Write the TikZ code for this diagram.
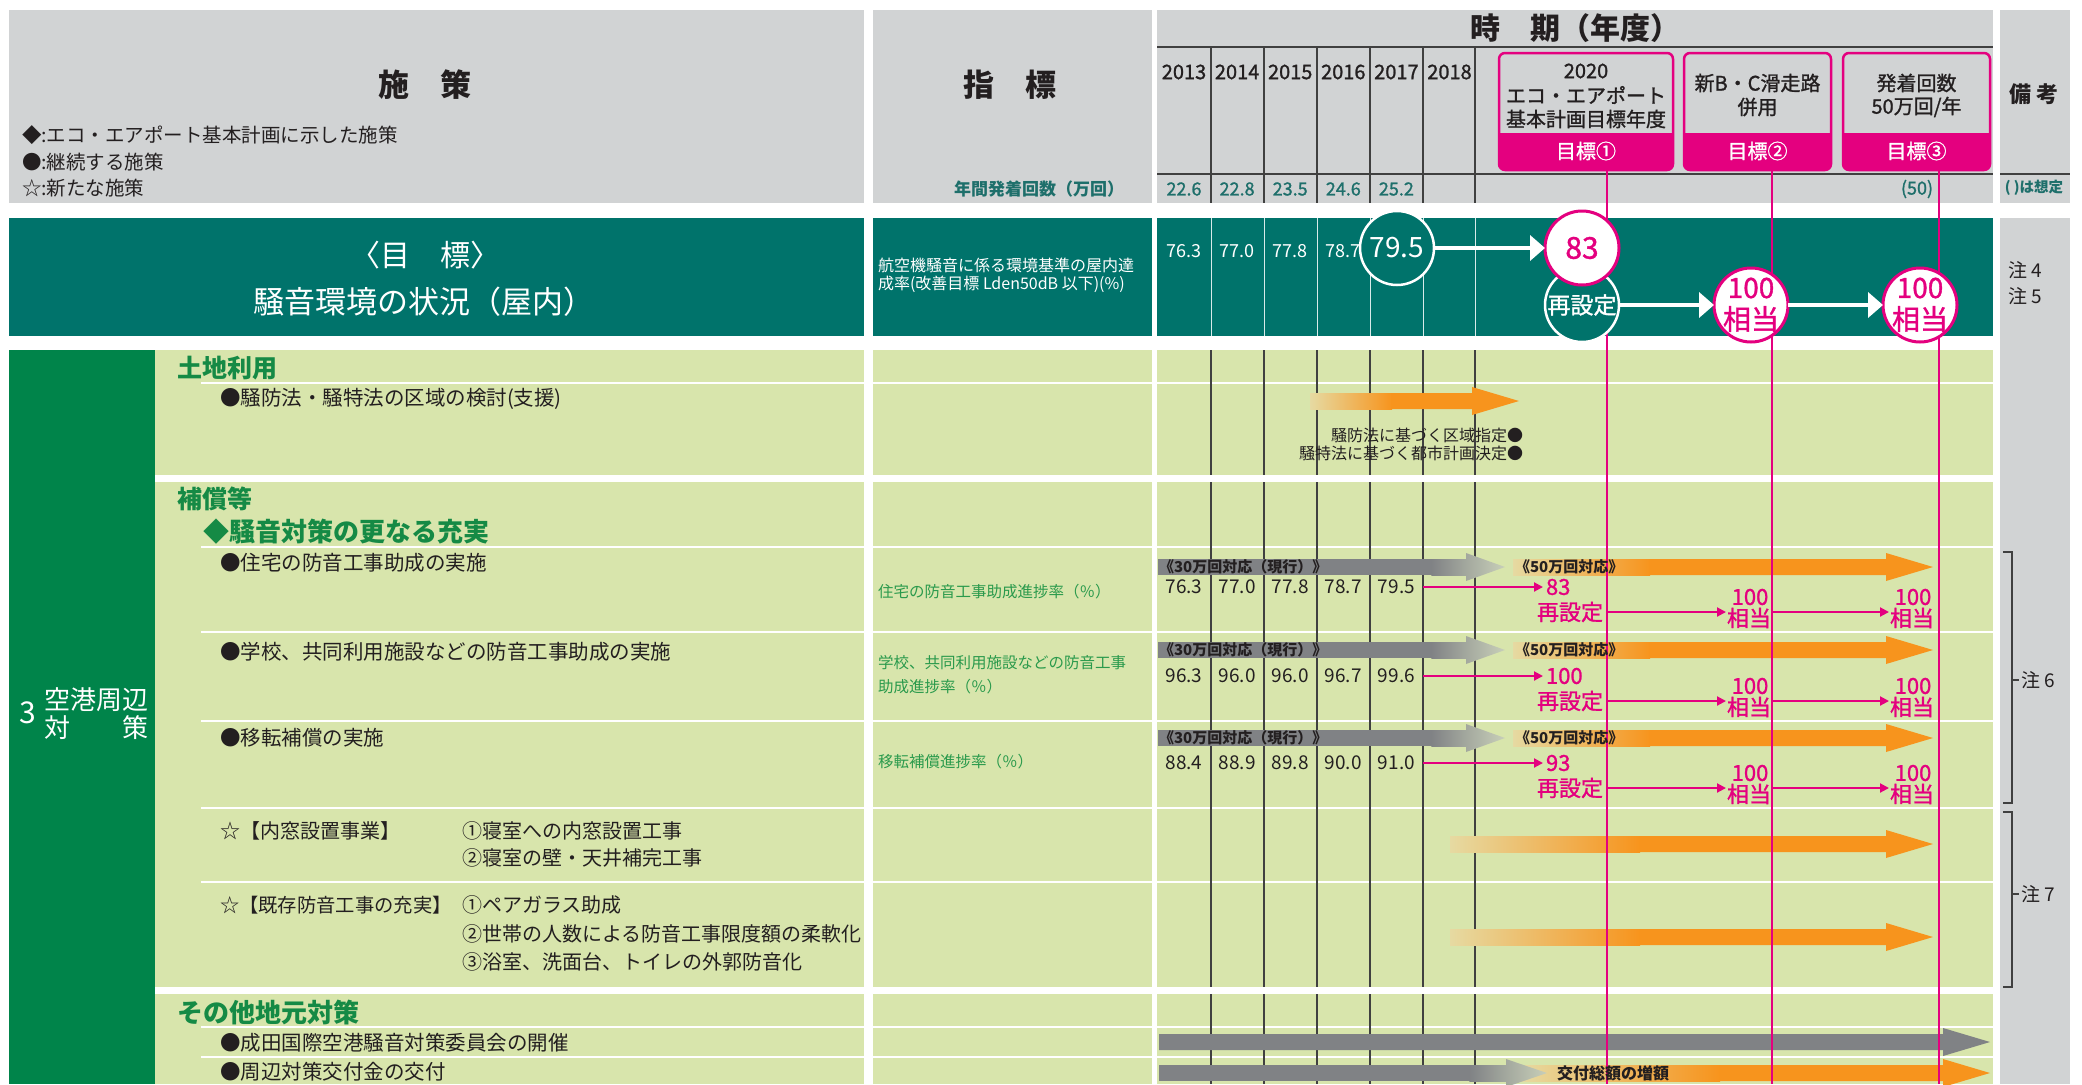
\documentclass[tikz,border=0pt]{standalone}
\usepackage{fontspec}
\setmainfont{Noto Sans CJK JP}
\newfontfamily\medf[FakeBold=1.2]{Noto Sans CJK JP}
\usetikzlibrary{arrows.meta}
\definecolor{hdrgray}{HTML}{D1D3D4}
\definecolor{teal1}{HTML}{00736B}
\definecolor{band}{HTML}{00844A}
\definecolor{lgreen}{HTML}{D8E5AC}
\definecolor{pinkc}{HTML}{E4007F}
\definecolor{orangec}{HTML}{F7941D}
\definecolor{fadec}{HTML}{E6DAA2}
\definecolor{grayar}{HTML}{808285}
\definecolor{grmid}{HTML}{A3A89E}
\definecolor{grlight}{HTML}{C8CFB9}
\definecolor{gtext}{HTML}{158A45}
\definecolor{gtext2}{HTML}{2A9A4C}
\definecolor{ttext}{HTML}{1E6F6B}
\definecolor{dtext}{HTML}{231F20}
\definecolor{rulec}{HTML}{404040}
\newcommand\fsz[1]{\fontsize{#1}{#1}\selectfont}
% orange gradient arrow: start, full-colour x, head start, tip, y
\newcommand\oarrow[5]{%
  \shade[left color=fadec, right color=orangec] (#1,#5-8) rectangle (#2,#5+8);
  \fill[orangec] (#2-0.6,#5-8) -- (#3,#5-8) -- (#3,#5-14) -- (#4,#5) -- (#3,#5+14) -- (#3,#5+8) -- (#2-0.6,#5+8) -- cycle;}
% grey arrow fading at its head: start, fade start, head start, tip, y
\newcommand\garrow[5]{%
  \fill[grayar] (#1,#5-8) rectangle (#2,#5+8);
  \shade[left color=grayar, right color=grmid] (#2-0.6,#5-8) rectangle (#3,#5+8);
  \shade[left color=grmid, right color=grlight] (#3,#5-14) -- (#4,#5) -- (#3,#5+14) -- cycle;}
\tikzset{
  every node/.style={inner sep=0pt, outer sep=0pt},
  tx/.style={font=\fsz{#1}, text=dtext}, tx/.default=20,
  mx/.style={font=\fsz{#1}\medf, text=dtext}, mx/.default=20,
  bx/.style={font=\fsz{#1}\bfseries, text=dtext}, bx/.default=20,
  px/.style={font=\fsz{22}\medf, text=pinkc},
  wline/.style={draw=white, line width=2.5pt},
  vline/.style={draw=rulec, line width=1.1pt},
  tline/.style={draw=white!85!teal1, line width=1pt},
  hline/.style={draw=rulec, line width=1.5pt},
  pline/.style={draw=pinkc, line width=2.2pt},
  parrow/.style={draw=pinkc, line width=2pt, -{Triangle[length=9pt,width=9pt]}, shorten >=3pt},
  warrow/.style={draw=white, line width=4pt, -{Triangle[length=15pt,width=25pt]}},
  circ/.style={circle, minimum size=74pt, line width=2.5pt},
  gbox/.style={rectangle, draw=pinkc, fill=hdrgray, line width=2.5pt, rounded corners=6pt},
  brk/.style={draw=rulec, line width=1.3pt},
}
\begin{document}
\begin{tikzpicture}[x=1pt,y=-1pt]
\useasboundingbox (0,0) rectangle (2082,1084);
\fill[white] (0,0) rectangle (2082,1084);
% ---------- header ----------
\fill[hdrgray] (9,10) rectangle (864,203);
\fill[hdrgray] (873,10) rectangle (1152,203);
\fill[hdrgray] (1157,10) rectangle (1993,203);
\fill[hdrgray] (2000,10) rectangle (2070,203);
% ---------- goal row ----------
\fill[teal1] (9,218) rectangle (864,336);
\fill[teal1] (873,218) rectangle (1152,336);
\fill[teal1] (1157,218) rectangle (1993,336);
\fill[hdrgray] (2000,218) rectangle (2070,1084);
% ---------- body ----------
\fill[band] (9,350) rectangle (155,1084);
\foreach \ya/\yb in {350/475, 482/987, 994/1084} {
  \fill[lgreen] (155,\ya) rectangle (864,\yb);
  \fill[lgreen] (873,\ya) rectangle (1152,\yb);
  \fill[lgreen] (1157,\ya) rectangle (1993,\yb);
}
\foreach \y in {383,547,632,721,808,882,1027,1057} {
  \draw[wline] (201,\y) -- (864,\y);
  \draw[wline] (873,\y) -- (1152,\y);
  \draw[wline] (1157,\y) -- (1993,\y);
}
\foreach \x in {1211,1264,1317,1370,1423,1475} {
  \draw[vline] (\x,47) -- (\x,203);
  \draw[tline] (\x,218) -- (\x,336);
  \foreach \ya/\yb in {350/475,482/987,994/1084} \draw[vline] (\x,\ya) -- (\x,\yb);
}
\draw[hline] (1157,47) -- (1993,47);
\draw[hline] (1157,174) -- (1993,174);
\draw[hline] (2000,174) -- (2070,174);
% ---------- header texts ----------
\node[bx=31] (hsk) at (425,85) {施　策};
\node[tx=19.5, anchor=west] (lg1) at (22,135) {◆:エコ・エアポート基本計画に示した施策};
\node[tx=19.5, anchor=west] (lg2) at (22,162) {●:継続する施策};
\node[tx=19.5, anchor=west] (lg3) at (22,188) {☆:新たな施策};
\node[bx=31] (hsh) at (1010,85) {指　標};
\node[bx=17, text=ttext] (hnk) at (1039,189) {年間発着回数（万回）};
\node[bx=30] (hjk) at (1575,28) {時　期（年度）};
\foreach \yy [count=\i from 0] in {2013,2014,2015,2016,2017,2018}
  \node[mx=20] (yr\i) at (1184+53.1*\i,72) {\yy};
\foreach \v [count=\i from 0] in {22.6,22.8,23.5,24.6,25.2}
  \node[mx=18, text=ttext] (hv\i) at (1184+53.1*\i,189) {\v};
\node[mx=18, text=ttext] (hv50) at (1917,189) {(50)};
\node[bx=22] (hbk) at (2034,94) {備 考};
\node[bx=14.5, text=ttext] (hso) at (2034,188) {( )は想定};
\node[tx=19, anchor=west] (n4) at (2008,270) {注 4};
\node[tx=19, anchor=west] (n5) at (2008,296) {注 5};
% goal boxes
\node[gbox, minimum width=174pt, minimum height=117pt] (g1) at (1586,111.5) {};
\node[gbox, minimum width=147pt, minimum height=117pt] (g2) at (1757.5,111.5) {};
\node[gbox, minimum width=147pt, minimum height=117pt] (g3) at (1916.5,111.5) {};
\foreach \xa/\xb in {1499/1673, 1684/1831, 1843/1990} {
  \fill[pinkc, rounded corners=6pt] (\xa,133) rectangle (\xb,170);
  \fill[pinkc] (\xa,133) rectangle (\xb,146);
}
\node[mx=20] (g1a) at (1586,71) {2020};
\node[mx=20] (g1b) at (1586,95) {エコ・エアポート};
\node[mx=20] (g1c) at (1586,119) {基本計画目標年度};
\node[mx=20, text=white] (g1d) at (1586,151) {目標①};
\node[mx=20] (g2a) at (1757.5,83) {新B・C滑走路};
\node[mx=20] (g2b) at (1757.5,107) {併用};
\node[mx=20, text=white] (g2d) at (1757.5,151) {目標②};
\node[mx=20] (g3a) at (1916.5,83) {発着回数};
\node[mx=20] (g3b) at (1916.5,107) {50万回/年};
\node[mx=20, text=white] (g3d) at (1916.5,151) {目標③};
% ---------- goal row texts ----------
\node[tx=30, text=white] (mk) at (425,255) {〈目　標〉};
\node[tx=31, text=white] (mk2) at (424,302) {騒音環境の状況（屋内）};
\node[tx=16, text=white, anchor=west] (ix1) at (878,265) {航空機騒音に係る環境基準の屋内達};
\node[tx=16, text=white, anchor=west] (ix2) at (878,284) {成率(改善目標 Lden50dB 以下)(\%)};
\foreach \v [count=\i from 0] in {76.3,77.0,77.8,78.7}
  \node[tx=18, text=white] (tv\i) at (1184+53.1*\i,251) {\v};
% ---------- gradient arrows ----------
\oarrow{1310}{1392}{1472}{1519}{401}
\foreach \y in {567,650,738} {
  \garrow{1158}{1432}{1466}{1505}{\y}
  \oarrow{1513}{1650}{1886}{1933}{\y}
}
\oarrow{1450}{1640}{1886}{1933}{844}
\oarrow{1450}{1640}{1886}{1933}{937}
\fill[grayar] (1159,1034) -- (1943,1034) -- (1943,1028) -- (1990,1042) -- (1943,1056) -- (1943,1050) -- (1159,1050) -- cycle;
\oarrow{1520}{1720}{1943}{1990}{1073}
\garrow{1159}{1470}{1506}{1547}{1073}
% ---------- pink goal lines ----------
\foreach \x/\k in {1607/1,1772/2,1939/3} {
  \coordinate (pt\k) at (\x,170);
  \coordinate (pb\k) at (\x,1084);
  \draw[pline] (pt\k) -- (pb\k);
}
% ---------- circles in goal row ----------
\node[circ, fill=teal1, draw=white, text=white, font=\fsz{28}] (c795) at (1397,248) {79.5};
\node[circ, fill=teal1, draw=white, text=white, font=\fsz{23}\medf] (cre) at (1582,305) {再設定};
\node[circ, fill=white, draw=pinkc, line width=3pt, text=pinkc, font=\fsz{30}\medf] (c83) at (1582,248) {83};
\node[circ, fill=white, draw=pinkc, line width=3pt] (c100a) at (1751,305) {};
\node[circ, fill=white, draw=pinkc, line width=3pt] (c100b) at (1920,305) {};
\node[mx=28, text=pinkc] (c100at) at (1751,288) {100};
\node[mx=28, text=pinkc] (c100ab) at (1751,319) {相当};
\node[mx=28, text=pinkc] (c100bt) at (1920,288) {100};
\node[mx=28, text=pinkc] (c100bb) at (1920,319) {相当};
\draw[warrow] (c795) -- (c83);
\draw[warrow] (cre) -- (c100a);
\draw[warrow] (c100a) -- (c100b);
% ---------- rows with progress values ----------
\foreach \k/\yv/\yr/\tv/\va/\vb/\vc/\vd/\ve in {1/587/612/83/76.3/77.0/77.8/78.7/79.5, 2/676/701/100/96.3/96.0/96.0/96.7/99.6, 3/763/788/93/88.4/88.9/89.8/90.0/91.0} {
  \foreach \v [count=\i from 0] in {\va,\vb,\vc,\vd,\ve}
    \node[tx=19] (rv\k-\i) at (1184+53.1*\i,\yv) {\v};
  \coordinate (ps\k) at (1423,\yv);
  \node[px, anchor=west] (pv\k) at (1546,\yv) {\tv};
  \draw[parrow] (ps\k) -- (pv\k.west);
  \node[px] (pre\k) at (1570,\yr) {再設定};
  \coordinate (pa\k) at (1607,\yr);
  \node[px] (ph\k) at (1750,\yr-15) {100};
  \node[px] (pu\k) at (1749,\yr+6) {相当};
  \draw[parrow, shorten >=1pt] (pa\k) -- (pa\k -| pu\k.west);
  \coordinate (pc\k) at (1772,\yr);
  \node[px] (phh\k) at (1913,\yr-15) {100};
  \node[px] (puu\k) at (1912,\yr+6) {相当};
  \draw[parrow, shorten >=1pt] (pc\k) -- (pc\k -| puu\k.west);
}
% arrow labels
\node[bx=15, anchor=west] (a30a) at (1159,567) {《30万回対応（現行）》};
\node[bx=15, anchor=west] (a30b) at (1159,650) {《30万回対応（現行）》};
\node[bx=15, anchor=west] (a30c) at (1159,738) {《30万回対応（現行）》};
\node[bx=15, anchor=west] (a50a) at (1515,567) {《50万回対応》};
\node[bx=15, anchor=west] (a50b) at (1515,650) {《50万回対応》};
\node[bx=15, anchor=west] (a50c) at (1515,738) {《50万回対応》};
\node[tx=16, anchor=east] (lu1) at (1523,435) {騒防法に基づく区域指定●};
\node[tx=16, anchor=east] (lu2) at (1523,453) {騒特法に基づく都市計画決定●};
\node[bx=16, anchor=west] (kf) at (1557,1073) {交付総額の増額};
% ---------- brackets ----------
\draw[brk] (2003,552) -- (2012,552) -- (2012,803) -- (2003,803);
\draw[brk] (2012,680) -- (2019,680);
\node[tx=19, anchor=west] (n6) at (2021,680) {注 6};
\draw[brk] (2003,812) -- (2012,812) -- (2012,987) -- (2003,987);
\draw[brk] (2012,894) -- (2019,894);
\node[tx=19, anchor=west] (n7) at (2021,894) {注 7};
% ---------- left column texts ----------
\node[tx=30, text=white] (s3) at (28,713) {3};
\node[tx=26, text=white, anchor=west] (s3a) at (44,700) {空港周辺};
\node[tx=26, text=white, anchor=west] (s3b) at (44,728) {対　　策};
\node[bx=25, text=gtext, anchor=west] (h1) at (177,368) {土地利用};
\node[tx=20.5, anchor=west] (i1) at (220,399) {●騒防法・騒特法の区域の検討(支援)};
\node[bx=25, text=gtext, anchor=west] (h2) at (177,499) {補償等};
\node[bx=26, text=gtext, anchor=west] (h2b) at (203,532) {◆騒音対策の更なる充実};
\node[tx=20.5, anchor=west] (i2) at (220,563) {●住宅の防音工事助成の実施};
\node[tx=20.5, anchor=west] (i3) at (220,652) {●学校、共同利用施設などの防音工事助成の実施};
\node[tx=20.5, anchor=west] (i4) at (220,738) {●移転補償の実施};
\node[tx=20, anchor=west] (i5) at (220,831) {☆【内窓設置事業】};
\node[tx=20, anchor=west] (i5a) at (462,831) {①寝室への内窓設置工事};
\node[tx=20, anchor=west] (i5b) at (462,858) {②寝室の壁・天井補完工事};
\node[tx=19.3, anchor=west] (i6) at (220,905) {☆【既存防音工事の充実】};
\node[tx=20, anchor=west] (i6a) at (462,905) {①ペアガラス助成};
\node[tx=20, anchor=west] (i6b) at (462,934) {②世帯の人数による防音工事限度額の柔軟化};
\node[tx=20, anchor=west] (i6c) at (462,962) {③浴室、洗面台、トイレの外郭防音化};
\node[bx=26, text=gtext, anchor=west] (h3) at (177,1012) {その他地元対策};
\node[tx=20.5, anchor=west] (i7) at (220,1043) {●成田国際空港騒音対策委員会の開催};
\node[tx=20.5, anchor=west] (i8) at (220,1072) {●周辺対策交付金の交付};
% indicator texts
\node[tx=15.5, text=gtext2, anchor=west] (k1) at (878,592) {住宅の防音工事助成進捗率（％）};
\node[tx=15.5, text=gtext2, anchor=west] (k2) at (878,663) {学校、共同利用施設などの防音工事};
\node[tx=15.5, text=gtext2, anchor=west] (k2b) at (878,687) {助成進捗率（％）};
\node[tx=15.5, text=gtext2, anchor=west] (k3) at (878,762) {移転補償進捗率（％）};
\end{tikzpicture}
\end{document}
